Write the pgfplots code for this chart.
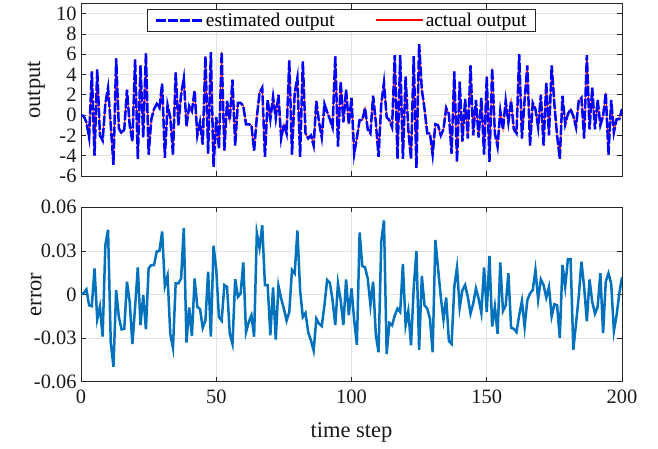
\documentclass[border=0pt]{standalone}
\usepackage{fontspec}
\setmainfont{Liberation Serif}
\usepackage{pgfplots}
\usepackage{pgfplotstable}
\pgfplotsset{compat=1.18}

\definecolor{errblue}{rgb}{0,0.447,0.741}
\definecolor{gridgray}{gray}{0.89}
\definecolor{axgray}{gray}{0.15}

% system output over 200 time steps
\pgfplotstableread{
t y
0 0
1 -0.1
2 -0.7
3 -2.2
4 4.3
5 -4.0
6 4.5
7 -2.0
8 -2.5
9 1.1
10 2.7
11 -1.0
12 -4.9
13 5.6
14 -1.3
15 -1.8
16 -1.4
17 2.5
18 -1.0
19 -2.6
20 5.5
21 -4.3
22 4.9
23 -2.2
24 6.1
25 -3.9
26 -0.4
27 0.6
28 1.1
29 0.7
30 3.1
31 -4.2
32 1.0
33 -0.2
34 -3.9
35 4.2
36 -1.0
37 2.0
38 3.6
39 -1.1
40 0.9
41 0.4
42 2.4
43 -2.0
44 -0.7
45 -2.9
46 5.8
47 -3.8
48 6.2
49 -5.1
50 -0.2
51 -3.3
52 6.2
53 -3.5
54 1.4
55 -0.5
56 3.5
57 -3.0
58 1.2
59 1.2
60 0.9
61 -0.9
62 -0.9
63 -1.0
64 -3.5
65 -0.2
66 2.2
67 2.7
68 -4.1
69 1.5
70 -0.4
71 1.8
72 -0.3
73 2.0
74 -2.3
75 -0.9
76 -1.8
77 5.4
78 -3.9
79 2.2
80 3.7
81 -4.1
82 5.3
83 -1.8
84 -2.3
85 -2.0
86 -3.0
87 1.4
88 -0.7
89 -2.2
90 1.1
91 0.3
92 -0.4
93 -1.2
94 5.8
95 -3.1
96 3.3
97 -0.7
98 2.5
99 -0.9
100 1.7
101 -3.8
102 -2.2
103 -0.5
104 -0.5
105 0.7
106 -1.4
107 -1.8
108 1.9
109 -0.7
110 -4.1
111 1.1
112 3.2
113 -0.2
114 -0.5
115 -1.2
116 5.9
117 -4.3
118 5.9
119 -4.3
120 3.8
121 -1.4
122 -4.3
123 5.8
124 -5.2
125 7.0
126 2.5
127 0.6
128 -1.8
129 -1.8
130 -3.9
131 -0.9
132 -1.0
133 -2.0
134 -1.4
135 0.7
136 0.1
137 -3.8
138 4.3
139 -4.6
140 3.3
141 -2.6
142 1.6
143 -2.3
144 4.9
145 -2.0
146 1.5
147 -2.2
148 1.7
149 -3.9
150 3.8
151 -4.6
152 4.6
153 -1.8
154 -3.1
155 0.4
156 -1.4
157 1.4
158 -0.7
159 1.4
160 -1.4
161 -1.8
162 6.0
163 -2.3
164 1.5
165 4.9
166 -3.0
167 1.2
168 0.6
169 -1.2
170 2.0
171 -3.0
172 3.2
173 -2.0
174 4.9
175 1.1
176 -2.0
177 -4.3
178 1.9
179 -0.9
180 0.1
181 0.6
182 -0.1
183 -1.2
184 1.4
185 1.7
186 -2.3
187 5.9
188 -1.4
189 2.7
190 -1.4
191 1.5
192 -1.0
193 -0.1
194 2.2
195 -3.9
196 1.5
197 -1.7
198 -0.4
199 -0.4
200 0.6
}\outtbl

% estimation error over the same steps
\pgfplotstableread{
t e
0 0
1 0.001
2 0.0035
3 -0.0074
4 -0.008
5 0.018
6 -0.017
7 -0.0085
8 -0.029
9 0.034
10 0.0445
11 -0.033
12 -0.0497
13 0.003
14 -0.0155
15 -0.024
16 -0.0235
17 0.0088
18 -0.005
19 -0.034
20 -0.0085
21 0.0187
22 -0.021
23 -0.0005
24 -0.024
25 0.018
26 0.0203
27 0.0203
28 0.0296
29 0.030
30 0.0434
31 0.0058
32 0.0127
33 -0.027
34 -0.0367
35 0.0076
36 0.0076
37 0.011
38 0.0457
39 -0.033
40 -0.009
41 -0.0286
42 0.011
43 -0.0085
44 -0.010
45 -0.023
46 -0.0178
47 0.0157
48 -0.029
49 0.0335
50 0.017
51 -0.0155
52 -0.018
53 0.0065
54 0.0053
55 -0.027
56 -0.034
57 0.0106
58 -0.0016
59 0.0007
60 0.022
61 -0.026
62 -0.019
63 -0.0143
64 -0.029
65 0.0423
66 0.032
67 0.0476
68 0.0065
69 0.0065
70 -0.028
71 0.0049
72 -0.031
73 0.006
74 -0.0028
75 -0.0097
76 -0.018
77 -0.012
78 0.0169
79 0.0145
80 0.044
81 0.003
82 -0.0155
83 -0.0127
84 -0.026
85 -0.0316
86 -0.0386
87 -0.0166
88 -0.020
89 -0.0217
90 -0.0074
91 0.010
92 0.0081
93 -0.0039
94 -0.021
95 0.0076
96 -0.004
97 -0.021
98 0.0104
99 -0.0143
100 0.0042
101 -0.0178
102 -0.0346
103 0.0427
104 0.0196
105 0.0187
106 0.011
107 -0.0074
108 0.0088
109 -0.028
110 -0.0397
111 0.0365
112 0.051
113 -0.041
114 -0.0196
115 -0.0212
116 -0.0143
117 -0.0097
118 -0.012
119 0.021
120 -0.0212
121 -0.0113
122 -0.035
123 0.0042
124 0.030
125 -0.038
126 0.0127
127 -0.0074
128 -0.0097
129 -0.0166
130 -0.0397
131 0.0376
132 0.018
133 -0.0016
134 -0.0173
135 -0.002
136 -0.032
137 -0.034
138 0.0053
139 0.0187
140 -0.009
141 0.003
142 0.0065
143 -0.0016
144 -0.0132
145 -0.0062
146 0.0042
147 -0.0028
148 -0.0127
149 0.0187
150 -0.012
151 0.0266
152 -0.022
153 -0.0085
154 -0.027
155 0.022
156 -0.0113
157 -0.0074
158 0.0146
159 -0.0229
160 -0.0236
161 -0.0259
162 -0.0143
163 -0.0044
164 -0.0224
165 -0.0039
166 0.0007
167 0.003
168 0.0169
169 -0.0035
170 0.0104
171 0.0065
172 -0.0021
173 0.0053
174 -0.015
175 -0.0067
176 -0.0074
177 -0.0298
178 0.0203
179 0.0053
180 0.0243
181 0.0243
182 -0.038
183 -0.020
184 -0.0016
185 0.0226
186 0.0053
187 -0.0185
188 0.0104
189 -0.0051
190 -0.0132
191 -0.0085
192 0.0146
193 -0.0266
194 0.0088
195 0.0146
196 0.0076
197 -0.0252
198 -0.0143
199 0.0007
200 0.0118
}\errtbl

\pgfplotsset{
  matstyle/.style={
    scale only axis, width=541pt,
    xmin=0, xmax=200, xtick={0,50,...,200},
    grid=major, major grid style={gridgray, line width=0.8pt},
    axis line style={axgray, line width=1pt},
    tick style={axgray, line width=0.8pt},
    tick align=inside, major tick length=5pt,
    xtick pos=both, ytick pos=both,
    ticklabel style={font=\fontsize{20.4}{24}\selectfont, text=black!90},
    xticklabel style={yshift=-5pt},
    yticklabel style={xshift=-1pt},
    label style={font=\fontsize{22.5}{26}\selectfont, text=black!90},
    /pgf/number format/assume math mode=true,
    scaled y ticks=false,
    ylabel style={at={(axis description cs:-0.083,0.5)}, anchor=center},
  },
  estline/.style={blue, line width=2.5pt, dash pattern=on 10pt off 2pt},
  actline/.style={red, line width=2pt},
}

\begin{document}
\begin{tikzpicture}
\path[use as bounding box] (0,0) rectangle (658pt,448pt);

\begin{axis}[matstyle,
  at={(81pt,272pt)}, anchor=south west, height=172.5pt,
  ymin=-6, ymax=11, ytick={-6,-4,...,10},
  xticklabels={},
  ylabel={output},
  legend columns=2,
  legend style={at={(0.4815,0.971)}, anchor=north, draw=axgray, fill=white,
    line width=0.8pt, inner xsep=7pt, inner ysep=1pt,
    font=\fontsize{19.4}{22}\selectfont,
    nodes={inner ysep=3pt}},
  /tikz/every even column/.append style={column sep=38pt},
  legend image code/.code={\draw[#1] (0pt,0pt) -- (47pt,0pt);},
]
\addlegendimage{estline}
\addlegendentry{estimated output}
\addlegendimage{actline}
\addlegendentry{actual output}
\addplot[actline, line width=1pt, forget plot] table[x=t, y=y] {\outtbl};
\addplot[estline, forget plot] table[x=t, y=y] {\outtbl};
\end{axis}

\begin{axis}[matstyle,
  at={(81pt,66.3pt)}, anchor=south west, height=174.4pt,
  ymin=-0.06, ymax=0.06, ytick={-0.06,-0.03,0,0.03,0.06},
  yticklabels={-0.06,-0.03,0,0.03,0.06},
  ylabel={error}, xlabel={time step},
  xlabel style={at={(axis description cs:0.5,-0.293)}, anchor=center},
]
\addplot[errblue, line width=2.5pt] table[x=t, y=e] {\errtbl};
\end{axis}
\end{tikzpicture}
\end{document}
